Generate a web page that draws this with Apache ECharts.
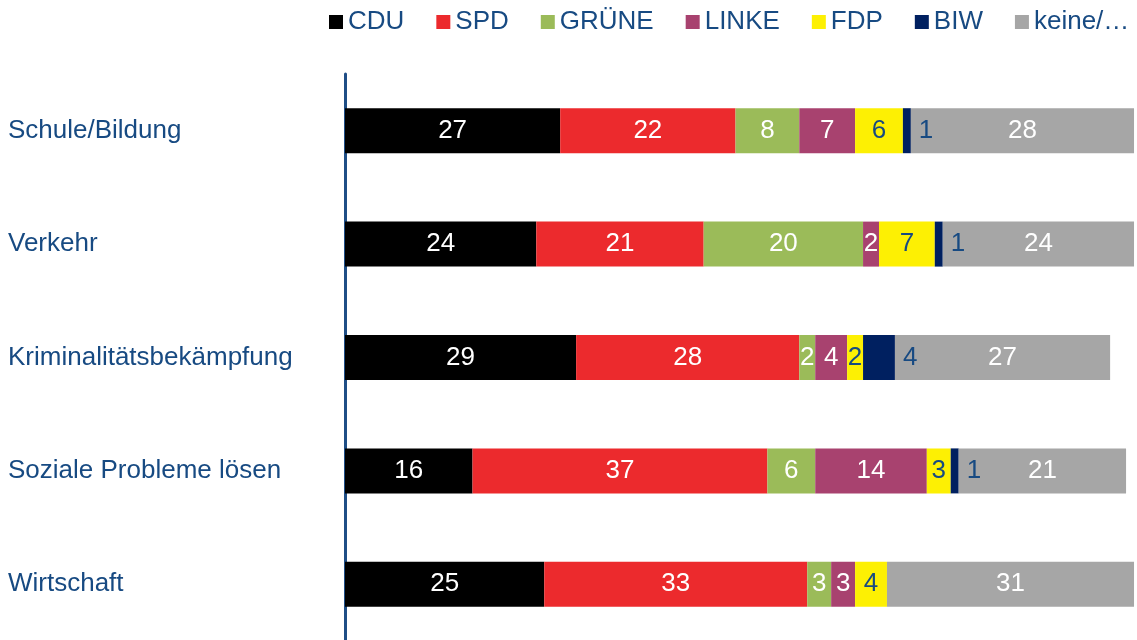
<!DOCTYPE html>
<html>
<head>
<meta charset="utf-8">
<script src="https://cdn.jsdelivr.net/npm/echarts@6/dist/echarts.min.js"></script>
<style>
  html, body { margin: 0; padding: 0; background: #fff; }
  #chart { width: 1137px; height: 640px; }
</style>
</head>
<body>
<div id="chart"></div>
<script>
// Themen (von oben nach unten)
var categories = ['Schule/Bildung', 'Verkehr', 'Kriminalitätsbekämpfung', 'Soziale Probleme lösen', 'Wirtschaft'];

// Parteienkompetenz in %
var cdu = [27, 24, 29, 16, 25];
var spd = [22, 21, 28, 37, 33];
var gruene = [8, 20, 2, 6, 3];
var linke = [7, 2, 4, 14, 3];
var fdp = [6, 7, 2, 3, 4];
var biw = [1, 1, 4, 1, 0];
var keine = [28, 24, 27, 21, 31];

var navy = '#174a82';
var fontFam = '"Liberation Sans", Arial, sans-serif';

function makeSeries(name, data, color, labelColor, labelPos) {
    return {
        name: name,
        type: 'bar',
        stack: 'total',
        barWidth: 45,
        data: data,
        itemStyle: { color: color },
        label: {
            show: true,
            position: labelPos || 'inside',
            distance: 8,
            color: labelColor,
            fontSize: 26,
            fontFamily: fontFam,
            formatter: function (p) { return p.value ? String(p.value) : ''; }
        },
        emphasis: { disabled: true }
    };
}

var chart = echarts.init(document.getElementById('chart'));
chart.setOption({
    animation: false,
    textStyle: { fontFamily: fontFam },
    legend: {
        left: 329,
        top: 9,
        width: 808,
        padding: 0,
        icon: 'rect',
        itemWidth: 14,
        itemHeight: 14,
        itemGap: 32,
        textStyle: { color: navy, fontSize: 26, fontFamily: fontFam },
        data: ['CDU', 'SPD', 'GRÜNE', 'LINKE', 'FDP', 'BIW', 'keine/…']
    },
    grid: { left: 345, width: 797, top: 74, height: 567, outerBoundsMode: 'none' },
    xAxis: {
        type: 'value',
        min: 0,
        max: 100,
        show: false
    },
    yAxis: {
        type: 'category',
        inverse: true,
        data: categories,
        axisLine: { show: true, lineStyle: { color: '#1f4e86', width: 3 } },
        axisTick: { show: false },
        axisLabel: {
            align: 'left',
            margin: 337,
            color: navy,
            fontSize: 26,
            fontFamily: fontFam
        }
    },
    series: [
        makeSeries('CDU', cdu, '#000000', '#ffffff'),
        makeSeries('SPD', spd, '#ec2a2d', '#ffffff'),
        makeSeries('GRÜNE', gruene, '#9bbb59', '#ffffff'),
        makeSeries('LINKE', linke, '#a8426f', '#ffffff'),
        makeSeries('FDP', fdp, '#fdf003', navy),
        makeSeries('BIW', biw, '#002060', navy, 'right'),
        makeSeries('keine/…', keine, '#a6a6a6', '#ffffff')
    ]
});
</script>
</body>
</html>
